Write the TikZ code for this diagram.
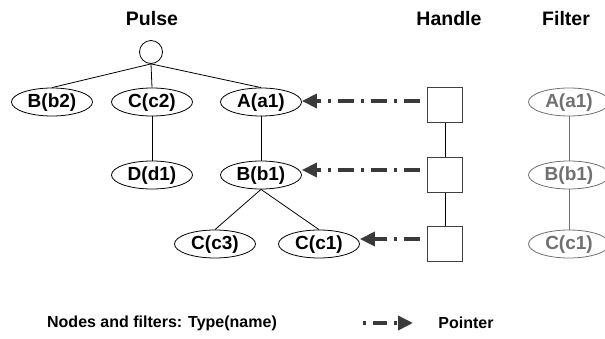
\documentclass[tikz,border=0pt]{standalone}
\usepackage{fontspec}
\setmainfont{Liberation Sans}
\usetikzlibrary{shapes.geometric,arrows.meta}
\definecolor{fgray}{HTML}{707070}
\definecolor{ptrc}{HTML}{3A3A3A}
\tikzset{
  nd/.style={ellipse,draw=black,line width=0.8pt,minimum width=81pt,minimum height=28pt,inner sep=0pt,text height=13.5pt,text depth=3pt,font=\bfseries\fontsize{19}{19}\selectfont},
  flt/.style={nd,draw=fgray,text=fgray},
  hsq/.style={rectangle,draw=black!75,line width=0.8pt,minimum size=35pt,inner sep=0pt},
  root/.style={circle,draw=black,line width=0.8pt,minimum size=23pt,inner sep=0pt},
  edge/.style={line width=0.8pt,draw=black},
  fedge/.style={line width=0.8pt,draw=fgray},
  ptr/.style={draw=ptrc,line width=3.5pt,dash pattern=on 16pt off 7pt on 3pt off 7pt,-{Triangle[length=15pt,width=14pt]}},
  ttl/.style={font=\bfseries\fontsize{19.5}{19.5}\selectfont},
  lgd/.style={font=\bfseries\fontsize{16}{16}\selectfont}
}
\begin{document}
\begin{tikzpicture}[x=1pt,y=-1pt]
\useasboundingbox (0,0) rectangle (605,338);
% titles
\node[ttl] (tp) at (152,19) {Pulse};
\node[ttl] (th) at (449,19) {Handle};
\node[ttl] (tf) at (566,19) {Filter};
% tree
\node[root] (r) at (151,52) {};
\node[nd] (b2) at (52,102) {B(b2)};
\node[nd] (c2) at (152,102) {C(c2)};
\node[nd] (a1) at (261,102) {A(a1)};
\node[nd] (d1) at (152,175) {D(d1)};
\node[nd] (b1) at (261,175) {B(b1)};
\node[nd] (c3) at (215,244) {C(c3)};
\node[nd] (c1) at (319,244) {C(c1)};
\draw[edge] (r.south) -- (b2.north);
\draw[edge] (r.south) -- (c2.north);
\draw[edge] (r.south) -- (a1.north);
\draw[edge] (c2.south) -- (d1.north);
\draw[edge] (a1.south) -- (b1.north);
\draw[edge] (b1.south) -- (c3.north);
\draw[edge] (b1.south) -- (c1.north);
% handles
\node[hsq] (h1) at (445,105) {};
\node[hsq] (h2) at (445,175) {};
\node[hsq] (h3) at (445,244) {};
\draw[edge] (h1.south) -- (h2.north);
\draw[edge] (h2.south) -- (h3.north);
\coordinate (p1) at (420,101);
\coordinate (p2) at (420,170);
\coordinate (p3) at (420,239);
\draw[ptr] (p1) -- (p1 -| a1.east);
\draw[ptr] (p2) -- (p2 -| b1.east);
\draw[ptr] (p3) -- (p3 -| c1.east);
% filter
\node[flt] (fa) at (569,102) {A(a1)};
\node[flt] (fb) at (569,175) {B(b1)};
\node[flt] (fc) at (569,244) {C(c1)};
\draw[fedge] (fa.south) -- (fb.north);
\draw[fedge] (fb.south) -- (fc.north);
% legend
\node[lgd] (l1) at (162,323) {Nodes and filters: Type(name)};
\coordinate (la) at (363,323);
\coordinate (lb) at (413,323);
\draw[draw=ptrc,line width=3.5pt,dash pattern=on 3pt off 7pt on 14pt off 7pt on 3pt off 7pt on 20pt,-{Triangle[length=15pt,width=14pt]}] (la) -- (lb);
\node[lgd] (l2) at (466,323) {Pointer};
\end{tikzpicture}
\end{document}
